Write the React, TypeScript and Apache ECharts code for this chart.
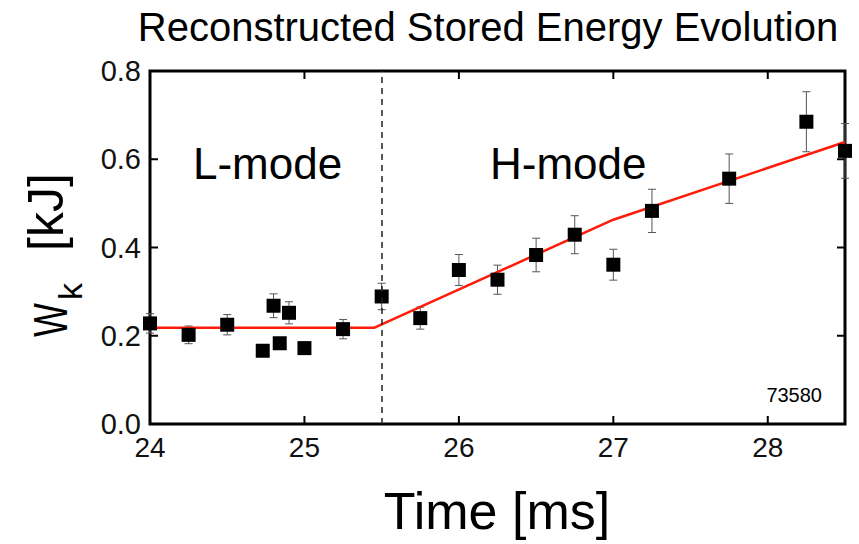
import React, { useEffect, useRef } from "react";
import * as echarts from "echarts";

// Measured stored energy (kJ) with 1-sigma uncertainties, shot 73580
const times = [24.0, 24.25, 24.5, 24.73, 24.8, 24.84, 24.9, 25.0, 25.25, 25.5, 25.75, 26.0, 26.25, 26.5, 26.75, 27.0, 27.25, 27.75, 28.25, 28.5];
const energies = [0.228, 0.202, 0.225, 0.166, 0.268, 0.183, 0.252, 0.172, 0.215, 0.289, 0.24, 0.349, 0.327, 0.383, 0.429, 0.361, 0.483, 0.556, 0.685, 0.619];
const errors = [0.022, 0.02, 0.023, 0.01, 0.027, 0.013, 0.025, 0.012, 0.022, 0.03, 0.025, 0.035, 0.033, 0.038, 0.043, 0.035, 0.049, 0.056, 0.068, 0.062];

// Piecewise fit through the L-mode plateau and the H-mode rise
const fitTimes = [24.0, 25.45, 27.0, 28.5];
const fitValues = [0.218, 0.218, 0.463, 0.639];

const transitionTime = 25.5;
const xTicks = [24, 25, 26, 27, 28];
const yTicks = [0, 0.2, 0.4, 0.6, 0.8];

const FONT = "'Liberation Sans', Arial, Helvetica, sans-serif";
const INK = "#000000";

export default function App() {
  const ref = useRef<HTMLDivElement>(null);

  useEffect(() => {
    if (!ref.current) return;
    const chart = echarts.init(ref.current, undefined, { renderer: "svg" });

    const points = times.map((t, i) => [t, energies[i], errors[i]]);
    const fit = fitTimes.map((t, i) => [t, fitValues[i]]);

    chart.setOption({
      animation: false,
      grid: { left: 150, right: 14, top: 71, bottom: 120 },
      xAxis: {
        type: "value",
        min: xTicks[0],
        max: 28.5,
        interval: 1,
        axisLine: { show: false },
        axisTick: { show: false },
        splitLine: { show: false },
        axisLabel: {
          show: true,
          margin: 9,
          fontSize: 28,
          fontFamily: FONT,
          color: "#111111",
          formatter: (v: number) => (xTicks.includes(v) ? String(v) : ""),
        },
      },
      yAxis: {
        type: "value",
        min: yTicks[0],
        max: yTicks[yTicks.length - 1],
        interval: 0.2,
        axisLine: { show: false },
        axisTick: { show: false },
        splitLine: { show: false },
        axisLabel: {
          margin: 9,
          fontSize: 29,
          fontFamily: FONT,
          color: "#111111",
          formatter: (v: number) => v.toFixed(1),
        },
      },
      series: [
        {
          // plot frame with inward ticks on all four sides, placed from the axis scales
          type: "custom",
          name: "frame",
          data: [[xTicks[0], yTicks[0]]],
          clip: false,
          silent: true,
          z: 0,
          renderItem: (params: any, api: any) => {
            const cs = params.coordSys;
            const left = cs.x;
            const top = cs.y;
            const right = cs.x + cs.width;
            const bottom = cs.y + cs.height;
            const len = 8;
            const tickStyle = { stroke: INK, lineWidth: 2 };
            const children: any[] = [
              {
                type: "rect",
                shape: { x: left, y: top, width: right - left, height: bottom - top },
                style: { fill: "none", stroke: INK, lineWidth: 3 },
              },
            ];
            xTicks.forEach((t) => {
              const px = api.coord([t, yTicks[0]])[0];
              children.push({ type: "line", shape: { x1: px, y1: bottom, x2: px, y2: bottom - len }, style: tickStyle });
              children.push({ type: "line", shape: { x1: px, y1: top, x2: px, y2: top + len }, style: tickStyle });
            });
            yTicks.forEach((v) => {
              const py = api.coord([xTicks[0], v])[1];
              children.push({ type: "line", shape: { x1: left, y1: py, x2: left + len, y2: py }, style: tickStyle });
              children.push({ type: "line", shape: { x1: right, y1: py, x2: right - len, y2: py }, style: tickStyle });
            });
            return { type: "group", children };
          },
        },
        {
          type: "custom",
          name: "error",
          data: points,
          z: 1,
          renderItem: (params: any, api: any) => {
            const x = api.value(0);
            const y = api.value(1);
            const e = api.value(2);
            const top = api.coord([x, y + e]);
            const bot = api.coord([x, y - e]);
            const cap = 4;
            return {
              type: "group",
              children: [
                { type: "line", shape: { x1: top[0], y1: top[1], x2: bot[0], y2: bot[1] }, style: { stroke: "#555555", lineWidth: 1 } },
                { type: "line", shape: { x1: top[0] - cap, y1: top[1], x2: top[0] + cap, y2: top[1] }, style: { stroke: "#555555", lineWidth: 1 } },
                { type: "line", shape: { x1: bot[0] - cap, y1: bot[1], x2: bot[0] + cap, y2: bot[1] }, style: { stroke: "#555555", lineWidth: 1 } },
              ],
            };
          },
        },
        {
          type: "line",
          name: "fit",
          data: fit,
          symbol: "none",
          z: 2,
          lineStyle: { color: "#ff1a0a", width: 2.5 },
          markLine: {
            silent: true,
            symbol: "none",
            label: { show: false },
            lineStyle: { color: "#222222", width: 1.5, type: [6, 5], opacity: 1 },
            data: [{ xAxis: transitionTime }],
          },
        },
        {
          type: "scatter",
          name: "Wk",
          data: points,
          symbol: "rect",
          symbolSize: 14,
          z: 3,
          itemStyle: { color: INK, opacity: 1 },
        },
      ],
      graphic: [
        {
          type: "text",
          x: 488,
          y: 27,
          style: {
            text: "Reconstructed Stored Energy Evolution",
            fontSize: 40,
            fontFamily: FONT,
            fill: INK,
            align: "center",
            verticalAlign: "middle",
          },
        },
        {
          type: "text",
          x: 497,
          y: 511,
          style: {
            text: "Time [ms]",
            fontSize: 52,
            fontFamily: FONT,
            fill: INK,
            align: "center",
            verticalAlign: "middle",
          },
        },
        {
          type: "text",
          x: 193,
          y: 163,
          style: { text: "L-mode", fontSize: 44, fontFamily: FONT, fill: INK, align: "left", verticalAlign: "middle" },
        },
        {
          type: "text",
          x: 490,
          y: 163,
          style: { text: "H-mode", fontSize: 44, fontFamily: FONT, fill: INK, align: "left", verticalAlign: "middle" },
        },
        {
          type: "text",
          x: 822,
          y: 395,
          style: { text: "73580", fontSize: 20, fontFamily: FONT, fill: INK, align: "right", verticalAlign: "middle" },
        },
        {
          // y-axis title W_k [kJ], reading bottom to top
          type: "group",
          x: 67,
          y: 337,
          rotation: Math.PI / 2,
          children: [
            {
              type: "text",
              x: 0,
              y: -16,
              scaleX: 0.75,
              style: { text: "W", fontSize: 48, fontFamily: FONT, fill: INK, align: "left", verticalAlign: "middle" },
            },
            {
              type: "text",
              x: 37,
              y: 3,
              style: { text: "k", fontSize: 34, fontFamily: FONT, fill: INK, align: "left", verticalAlign: "middle" },
            },
            {
              type: "text",
              x: 86,
              y: -21,
              style: { text: "[kJ]", fontSize: 50, fontFamily: FONT, fill: INK, align: "left", verticalAlign: "middle" },
            },
          ],
        },
      ],
    });

    return () => chart.dispose();
  }, []);

  return <div ref={ref} style={{ width: 859, height: 544, position: "absolute", left: 0, top: 0 }} />;
}
